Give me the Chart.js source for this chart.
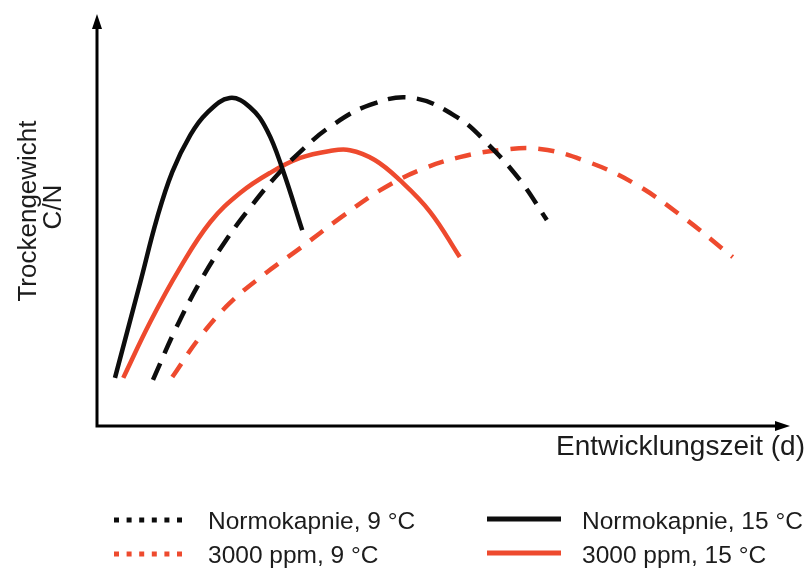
<!DOCTYPE html>
<html>
<head>
<meta charset="utf-8">
<script src="https://cdn.jsdelivr.net/npm/chart.js@4/dist/chart.umd.min.js"></script>
<style>
  html, body { margin: 0; padding: 0; background: #ffffff; }
  #wrap { width: 810px; height: 572px; }
</style>
</head>
<body>
<div id="wrap"><canvas id="chart" width="810" height="572"></canvas></div>
<script>
// Development curves: dry weight C/N over development time (relative units)
const normo9Days    = [8.1, 11.3, 14.9, 18.5, 22.1, 25.8, 29.4, 33.7, 39.5, 45.7, 52.1, 56.4, 61.2, 65.1];
const normo9Values  = [11.3, 23.5, 35.3, 45.1, 53.4, 61.0, 67.2, 73.3, 78.7, 80.4, 75.7, 69.4, 60.3, 50.5];

const ppm9Days      = [10.9, 14.9, 19.2, 24.3, 29.4, 35.2, 41.0, 46.7, 52.5, 58.3, 64.1, 70.3, 77.6, 84.8, 92.0];
const ppm9Values    = [12.0, 21.8, 30.1, 37.3, 43.6, 51.0, 57.8, 62.7, 65.9, 67.6, 67.9, 65.2, 59.6, 51.2, 41.4];

const normo15Days   = [2.6, 6.2, 8.7, 10.9, 13.5, 15.9, 19.2, 22.1, 24.6, 26.9, 29.7];
const normo15Values = [11.8, 34.8, 51.0, 62.3, 71.3, 76.7, 80.4, 78.2, 72.5, 62.7, 48.0];

const ppm15Days     = [3.8, 7.7, 12.0, 16.4, 20.7, 25.0, 29.4, 33.7, 36.6, 40.2, 43.8, 48.2, 52.5];
const ppm15Values   = [11.8, 25.5, 38.7, 50.0, 57.1, 62.0, 65.7, 67.4, 67.6, 65.2, 60.3, 52.5, 41.4];

const seriesLabels = ['Normokapnie, 9 °C', '3000 ppm, 9 °C', 'Normokapnie, 15 °C', '3000 ppm, 15 °C'];
const xAxisTitle = 'Entwicklungszeit (d)';
const yAxisTitle = ['Trockengewicht', 'C/N'];

const BLACK = '#0d0d0d';
const RED = '#ee4a2e';
const TEXT = '#1c1c1c';
const FONT = '"Liberation Sans", Arial, Helvetica, sans-serif';

function pts(xs, ys) { return xs.map((x, i) => ({ x: x, y: ys[i] })); }

// Axes with arrow heads, axis titles and a two-column legend
const decorations = {
  id: 'decorations',
  afterDraw(chart) {
    const ctx = chart.ctx;
    const a = chart.chartArea;
    ctx.save();

    // axes
    ctx.strokeStyle = '#000';
    ctx.fillStyle = '#000';
    ctx.lineWidth = 3;
    ctx.lineCap = 'butt';
    ctx.beginPath();
    ctx.moveTo(a.left, a.top + 10);
    ctx.lineTo(a.left, a.bottom);
    ctx.lineTo(a.right - 10, a.bottom);
    ctx.stroke();
    // y arrow head
    ctx.beginPath();
    ctx.moveTo(a.left, a.top - 4);
    ctx.lineTo(a.left - 5, a.top + 11);
    ctx.lineTo(a.left + 5, a.top + 11);
    ctx.closePath();
    ctx.fill();
    // x arrow head
    ctx.beginPath();
    ctx.moveTo(a.right + 2, a.bottom);
    ctx.lineTo(a.right - 13, a.bottom - 5);
    ctx.lineTo(a.right - 13, a.bottom + 5);
    ctx.closePath();
    ctx.fill();

    // axis titles
    ctx.fillStyle = TEXT;
    ctx.font = '28px ' + FONT;
    ctx.textAlign = 'right';
    ctx.textBaseline = 'alphabetic';
    ctx.fillText(xAxisTitle, 805, 455);

    ctx.font = '26px ' + FONT;
    ctx.textAlign = 'center';
    ctx.textBaseline = 'alphabetic';
    ctx.save();
    ctx.translate(36, 211);
    ctx.rotate(-Math.PI / 2);
    ctx.fillText(yAxisTitle[0], 0, 0);
    ctx.restore();
    ctx.save();
    ctx.translate(61, 207);
    ctx.rotate(-Math.PI / 2);
    ctx.fillText(yAxisTitle[1], 0, 0);
    ctx.restore();

    // legend
    const ds = chart.data.datasets;
    const rows = [520, 554];
    ctx.font = '24.5px ' + FONT;
    ctx.textAlign = 'left';
    ctx.textBaseline = 'alphabetic';
    ds.forEach((d, i) => {
      const col = i < 2 ? 0 : 1;
      const y = rows[i % 2];
      ctx.fillStyle = d.borderColor;
      ctx.strokeStyle = d.borderColor;
      if (col === 0) {
        for (let k = 0; k < 6; k++) {
          ctx.fillRect(114 + k * 12.6, y - 2.5, 5, 5);
        }
      } else {
        ctx.lineWidth = 5;
        ctx.beginPath();
        ctx.moveTo(487, y - 1);
        ctx.lineTo(561, y - 1);
        ctx.stroke();
      }
      ctx.fillStyle = TEXT;
      ctx.fillText(d.label, col === 0 ? 208 : 582, y + 9);
    });

    ctx.restore();
  }
};

new Chart(document.getElementById('chart'), {
  type: 'line',
  data: {
    datasets: [
      { label: seriesLabels[0], data: pts(normo9Days, normo9Values), borderColor: BLACK, borderDash: [18, 11] },
      { label: seriesLabels[1], data: pts(ppm9Days, ppm9Values), borderColor: RED, borderDash: [16, 12] },
      { label: seriesLabels[2], data: pts(normo15Days, normo15Values), borderColor: BLACK },
      { label: seriesLabels[3], data: pts(ppm15Days, ppm15Values), borderColor: RED }
    ]
  },
  options: {
    responsive: false,
    animation: false,
    datasets: {
      line: {
        borderWidth: 4.5,
        pointRadius: 0,
        fill: false,
        tension: 0.4,
        borderCapStyle: 'butt'
      }
    },
    layout: { padding: { left: 97, top: 18, right: 22, bottom: 146 } },
    scales: {
      x: { type: 'linear', min: 0, max: 100, display: false },
      y: { type: 'linear', min: 0, max: 100, display: false }
    },
    plugins: {
      legend: { display: false },
      tooltip: { enabled: false }
    }
  },
  plugins: [decorations]
});
</script>
</body>
</html>
